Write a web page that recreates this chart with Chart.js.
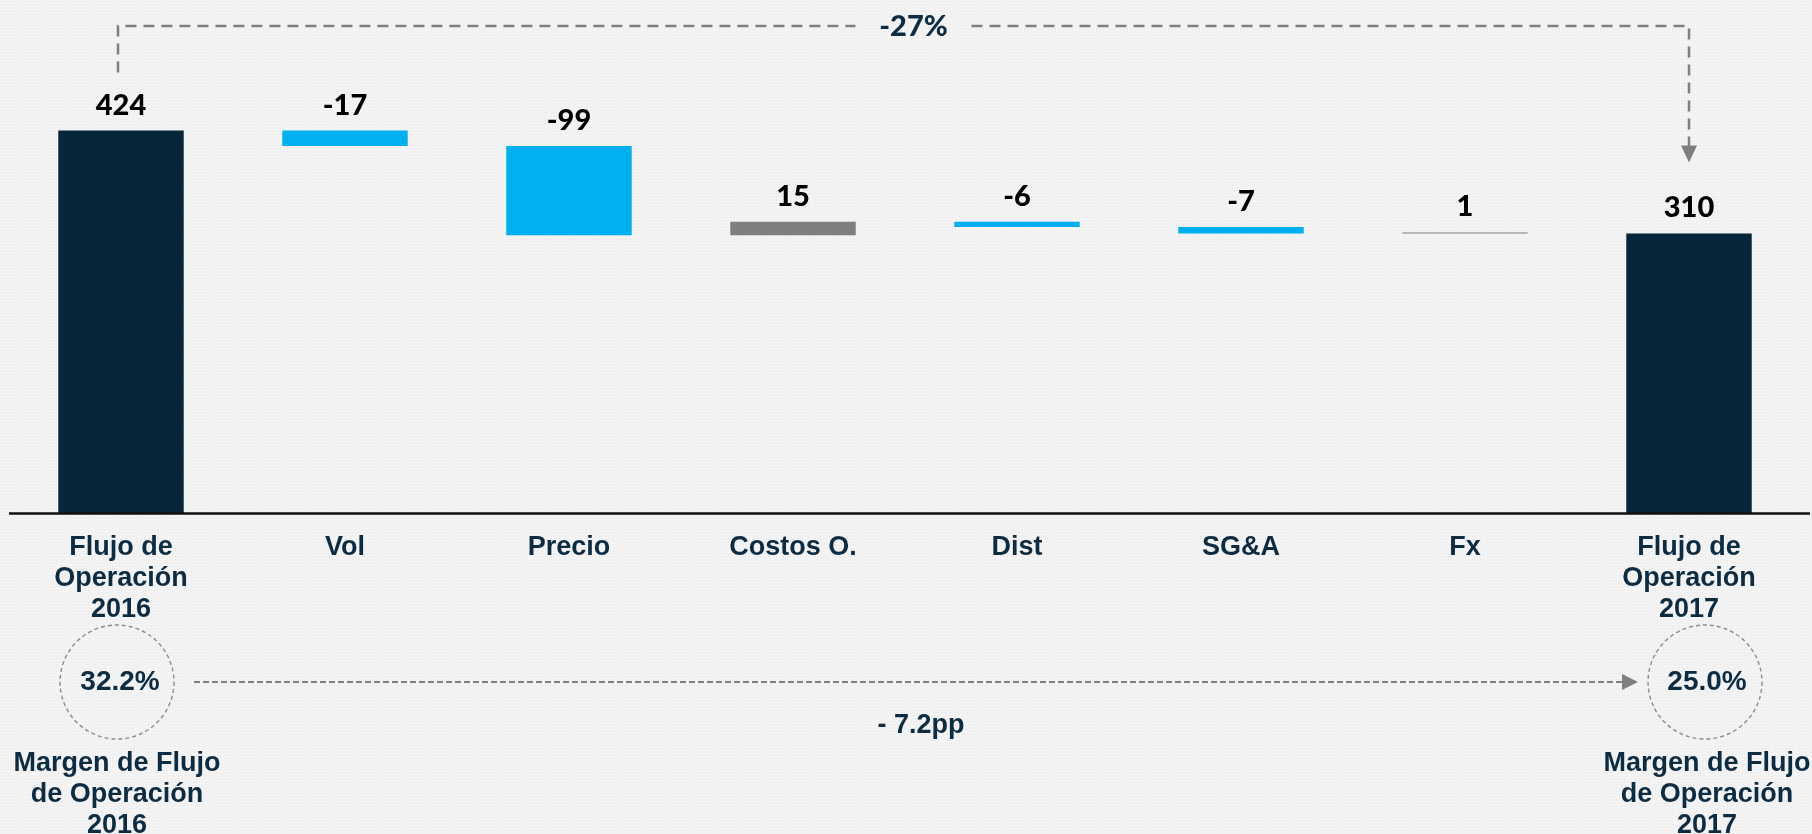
<!DOCTYPE html>
<html>
<head>
<meta charset="utf-8">
<script src="https://cdn.jsdelivr.net/npm/chart.js@4.4.1/dist/chart.umd.min.js"></script>
<style>
  html, body { margin: 0; padding: 0; background: #f2f2f2; overflow: hidden; }
</style>
</head>
<body>
<canvas id="flujoChart" width="1812" height="834"></canvas>
<script>
// Datos del puente de Flujo de Operación
const categorias = [
  ["Flujo de", "Operación", "2016"],
  "Vol",
  "Precio",
  "Costos O.",
  "Dist",
  "SG&A",
  "Fx",
  ["Flujo de", "Operación", "2017"],
];
const variaciones = [424, -17, -99, 15, -6, -7, 1, 310];
const esTotal = [true, false, false, false, false, false, false, true];

const cambioTotal = "-27%";
const margen2016 = "32.2%";
const margen2017 = "25.0%";
const cambioMargen = "- 7.2pp";
const etiquetaMargen2016 = ["Margen de Flujo", "de Operación", "2016"];
const etiquetaMargen2017 = ["Margen de Flujo", "de Operación", "2017"];

const AZUL_OSCURO = "#072639";
const CIAN = "#00b0f0";
const GRIS = "#7f7f7f";
const TEXTO = "#0c2c43";
const FUENTE_VALOR = "900 29px Lato, 'Open Sans', sans-serif";

// rangos flotantes de la cascada
let acumulado = 0;
const rangos = variaciones.map((v, i) => {
  if (esTotal[i]) {
    acumulado = v;
    return [0, v];
  }
  const inicio = acumulado;
  acumulado += v;
  return [inicio, acumulado];
});
const colores = variaciones.map((v, i) =>
  esTotal[i] ? AZUL_OSCURO : v < 0 ? CIAN : GRIS
);

// fondo punteado
function crearPatron(ctx) {
  const c = document.createElement("canvas");
  c.width = 3;
  c.height = 3;
  const p = c.getContext("2d");
  p.fillStyle = "#f1f1f1";
  p.fillRect(0, 0, 3, 3);
  p.fillStyle = "#fbfbfb";
  p.fillRect(0, 0, 1, 1);
  return ctx.createPattern(c, "repeat");
}

function flecha(ctx, x, y, dir, largo, ancho) {
  ctx.beginPath();
  if (dir === "abajo") {
    ctx.moveTo(x, y);
    ctx.lineTo(x - ancho / 2, y - largo);
    ctx.lineTo(x + ancho / 2, y - largo);
  } else {
    ctx.moveTo(x, y);
    ctx.lineTo(x - largo, y - ancho / 2);
    ctx.lineTo(x - largo, y + ancho / 2);
  }
  ctx.closePath();
  ctx.fill();
}

function textoMultilinea(ctx, lineas, x, yPrimera, alto) {
  lineas.forEach((l, i) => ctx.fillText(l, x, yPrimera + i * alto));
}

const anotaciones = {
  id: "anotaciones",
  beforeDraw(chart) {
    const ctx = chart.ctx;
    ctx.save();
    ctx.fillStyle = crearPatron(ctx);
    ctx.fillRect(0, 0, chart.width, chart.height);
    ctx.restore();
  },
  afterDatasetsDraw(chart) {
    const ctx = chart.ctx;
    const area = chart.chartArea;
    const barras = chart.getDatasetMeta(0).data;

    ctx.save();
    // eje horizontal
    ctx.strokeStyle = "#111111";
    ctx.lineWidth = 2.5;
    ctx.beginPath();
    ctx.moveTo(area.left, area.bottom + 0.5);
    ctx.lineTo(chart.width - 2, area.bottom + 0.5);
    ctx.stroke();

    // etiquetas de valor
    ctx.fillStyle = "#000000";
    ctx.font = FUENTE_VALOR;
    ctx.textAlign = "center";
    ctx.textBaseline = "alphabetic";
    barras.forEach((b, i) => {
      const tope = Math.min(b.y, b.base);
      ctx.fillText(String(variaciones[i]), b.x, tope - 16);
    });

    // corchete superior con variación total
    const x0 = barras[0].x - 3;
    const x1 = barras[barras.length - 1].x;
    const yLinea = 26;
    const xTexto = (x0 + x1) / 2 + 10;
    ctx.strokeStyle = GRIS;
    ctx.fillStyle = GRIS;
    ctx.lineWidth = 2.5;
    ctx.setLineDash([11, 7]);
    ctx.beginPath();
    ctx.moveTo(x0, barras[0].y - 58);
    ctx.lineTo(x0, yLinea);
    ctx.lineTo(xTexto - 58, yLinea);
    ctx.moveTo(xTexto + 58, yLinea);
    ctx.lineTo(x1, yLinea);
    const punta = barras[barras.length - 1].y - 71;
    ctx.lineTo(x1, punta - 15);
    ctx.stroke();
    ctx.setLineDash([]);
    flecha(ctx, x1, punta, "abajo", 17, 16);

    ctx.fillStyle = TEXTO;
    ctx.font = FUENTE_VALOR;
    ctx.textBaseline = "middle";
    ctx.fillText(cambioTotal, xTexto, yLinea + 1);

    // márgenes
    const yCirculo = 682;
    const radio = 57;
    const cx0 = barras[0].x - 4;
    const cx1 = barras[barras.length - 1].x + 16;
    ctx.strokeStyle = "#8c8c8c";
    ctx.lineWidth = 1.4;
    ctx.setLineDash([4, 3]);
    [cx0, cx1].forEach((cx) => {
      ctx.beginPath();
      ctx.arc(cx, yCirculo, radio, 0, Math.PI * 2);
      ctx.stroke();
    });

    ctx.strokeStyle = GRIS;
    ctx.fillStyle = GRIS;
    ctx.lineWidth = 2.2;
    ctx.setLineDash([6, 3]);
    const puntaH = cx1 - radio - 10;
    ctx.beginPath();
    ctx.moveTo(cx0 + radio + 20, yCirculo);
    ctx.lineTo(puntaH - 14, yCirculo);
    ctx.stroke();
    ctx.setLineDash([]);
    flecha(ctx, puntaH, yCirculo, "derecha", 16, 16);

    ctx.fillStyle = TEXTO;
    ctx.font = "bold 28px 'Liberation Sans', Arial, sans-serif";
    ctx.textBaseline = "middle";
    ctx.fillText(margen2016, cx0 + 3, yCirculo);
    ctx.fillText(margen2017, cx1 + 2, yCirculo);

    ctx.font = "bold 27px 'Liberation Sans', Arial, sans-serif";
    ctx.fillText(cambioMargen, (cx0 + cx1) / 2 + 10, yCirculo + 44);
    textoMultilinea(ctx, etiquetaMargen2016, cx0, 764, 31);
    textoMultilinea(ctx, etiquetaMargen2017, cx1 + 2, 764, 31);
    ctx.restore();
  },
};

const ctx = document.getElementById("flujoChart").getContext("2d");
new Chart(ctx, {
  type: "bar",
  data: {
    labels: categorias,
    datasets: [
      {
        data: rangos,
        backgroundColor: colores,
        borderWidth: 0,
        barPercentage: 0.56,
        categoryPercentage: 1,
      },
    ],
  },
  options: {
    responsive: false,
    animation: false,
    layout: { padding: { left: 9, right: 11, top: 62, bottom: 0 } },
    plugins: {
      legend: { display: false },
      tooltip: { enabled: false },
    },
    scales: {
      y: { display: false, min: 0, max: 500 },
      x: {
        grid: { display: false },
        border: { display: false },
        ticks: {
          color: TEXTO,
          autoSkip: false,
          maxRotation: 0,
          padding: 11,
          font: {
            family: "'Liberation Sans', Arial, sans-serif",
            size: 27,
            weight: "bold",
            lineHeight: 1.15,
          },
        },
        afterFit(scale) {
          scale.height = 321;
        },
      },
    },
  },
  plugins: [anotaciones],
});
</script>
</body>
</html>
